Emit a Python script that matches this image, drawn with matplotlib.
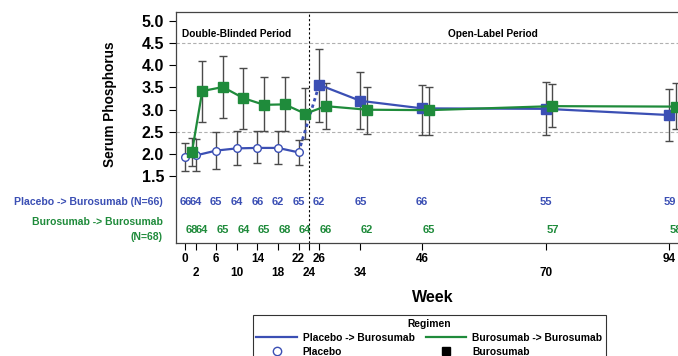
import numpy as np
import matplotlib
matplotlib.use("Agg")
import matplotlib.pyplot as plt
from matplotlib.lines import Line2D

plt.rcParams['font.family'] = ['Liberation Sans', 'DejaVu Sans']
plt.rcParams['font.weight'] = 'bold'
plt.rcParams['axes.labelweight'] = 'bold'

# ---- data ----
weeks = [0, 2, 6, 10, 14, 18, 22, 26, 34, 46, 70, 94]
tick_weeks = [0, 2, 6, 10, 14, 18, 22, 24, 26, 34, 46, 70, 94]

pbo_mean = [1.93, 1.97, 2.08, 2.13, 2.14, 2.14, 2.04, 3.56, 3.20, 3.03, 3.02, 2.88]
pbo_hi = [2.25, 2.35, 2.49, 2.53, 2.53, 2.52, 2.32, 4.36, 3.85, 3.56, 3.62, 3.47]
pbo_lo = [1.61, 1.61, 1.67, 1.75, 1.80, 1.78, 1.75, 2.73, 2.57, 2.44, 2.44, 2.29]
pbo_n = [66, 64, 65, 64, 66, 62, 65, 62, 65, 66, 55, 59]

bur_mean = [2.05, 3.42, 3.51, 3.26, 3.11, 3.12, 2.91, 3.08, 3.00, 2.99, 3.08, 3.07]
bur_hi = [2.36, 4.09, 4.21, 3.94, 3.74, 3.74, 3.48, 3.60, 3.51, 3.51, 3.57, 3.60]
bur_lo = [1.74, 2.73, 2.82, 2.56, 2.52, 2.52, 2.34, 2.56, 2.45, 2.44, 2.61, 2.56]
bur_n = [68, 64, 65, 64, 65, 68, 64, 66, 62, 65, 57, 58]

BLUE = '#3b4fb4'
GREEN = '#1f8b3b'
BAR = '#4a4a4a'
shift = 1.3  # Burosumab group drawn a little to the right

fig = plt.figure(figsize=(6.78, 3.56), dpi=100)
ax = fig.add_axes([0.2596, 0.3174, 0.758, 0.649])

w = np.array(weeks, dtype=float)
wb = w + shift
pm, pl, ph = map(np.array, (pbo_mean, pbo_lo, pbo_hi))
bm, bl, bh = map(np.array, (bur_mean, bur_lo, bur_hi))

# reference lines
for yv in (4.5, 2.5):
    ax.axhline(yv, color='#b0b0b0', lw=0.8, ls=(0, (3, 2)), zorder=0)
ax.axvline(24, color='black', lw=0.8, ls=(0, (2, 2)), zorder=1)

# error bars
ax.errorbar(w, pm, yerr=[pm - pl, ph - pm], fmt='none', ecolor=BAR,
            elinewidth=1.0, capsize=3, capthick=1.0, zorder=2)
ax.errorbar(wb, bm, yerr=[bm - bl, bh - bm], fmt='none', ecolor=BAR,
            elinewidth=1.0, capsize=3, capthick=1.0, zorder=2)

# placebo -> burosumab
ax.plot(w[:7], pm[:7], color=BLUE, lw=1.6, zorder=3)
ax.plot(w[6:8], pm[6:8], color=BLUE, lw=2.0, ls=(0, (1.2, 1.2)), zorder=3)
ax.plot(w[7:], pm[7:], color=BLUE, lw=1.6, zorder=3)
ax.plot(w[:7], pm[:7], ls='none', marker='o', ms=5.5, mfc='white', mec=BLUE, mew=1.0, zorder=4)
ax.plot(w[7:], pm[7:], ls='none', marker='s', ms=6.7, color=BLUE, zorder=4)

# burosumab -> burosumab
ax.plot(wb, bm, color=GREEN, lw=1.6, marker='s', ms=6.7, zorder=4)

# patient counts inside the axes
for x, n in zip(w, pbo_n):
    ax.text(x, 0.92, str(n), color=BLUE, fontsize=8, ha='center', va='center')
for x, n in zip(wb, bur_n):
    ax.text(x, 0.30, str(n), color=GREEN, fontsize=8, ha='center', va='center')

ax.text(-4.4, 0.92, 'Placebo -> Burosumab (N=66)', color=BLUE, fontsize=7.6,
        ha='right', va='center', clip_on=False)
ax.text(-4.4, 0.30, 'Burosumab -> Burosumab\n(N=68)', color=GREEN, fontsize=7.5,
        ha='right', va='center', linespacing=1.6, multialignment='right', clip_on=False)

ax.text(-0.7, 4.71, 'Double-Blinded Period', fontsize=7.3, ha='left', va='center')
ax.text(59.8, 4.71, 'Open-Label Period', fontsize=7.3, ha='center', va='center')

ax.set_xlim(-1.8, 98)
ax.set_ylim(0, 5.2)
ax.set_yticks(np.arange(1.5, 5.01, 0.5))
ax.set_yticklabels([f'{v:.1f}' for v in np.arange(1.5, 5.01, 0.5)], fontsize=11.5)
ax.set_ylabel('Serum Phosphorus', fontsize=9.8)
ax.yaxis.set_label_coords(-0.115, 0.6)

ax.set_xticks(tick_weeks)
ax.set_xticklabels([f'{t}' if i % 2 == 0 else f'\n{t}' for i, t in enumerate(tick_weeks)],
                   fontsize=8.5, linespacing=1.25)
ax.tick_params(axis='x', length=5, width=0.8, pad=2)
ax.tick_params(axis='y', length=5, width=0.8)
ax.set_xlabel('Week', fontsize=11.5, labelpad=8)

for s in ax.spines.values():
    s.set_color('#444444')
    s.set_linewidth(0.9)

handles = [Line2D([], [], color=BLUE, lw=1.6),
           Line2D([], [], ls='none', marker='o', mfc='none', mec=BLUE, ms=6),
           Line2D([], [], color=GREEN, lw=1.6),
           Line2D([], [], ls='none', marker='s', color='black', ms=6)]
labels = ['Placebo -> Burosumab', 'Placebo', 'Burosumab -> Burosumab', 'Burosumab']
leg = fig.legend(handles, labels, ncol=2, loc='upper left', bbox_to_anchor=(0.373, 0.115),
                 title='Regimen', fontsize=7.4, title_fontproperties={'weight': 'bold', 'size': 7.4},
                 frameon=True, fancybox=False, edgecolor='black', handlelength=3.9,
                 borderpad=0.35, labelspacing=0.4, columnspacing=1.1, handletextpad=0.6,
                 borderaxespad=0)
leg.get_frame().set_linewidth(0.8)

fig.savefig('out.png', dpi=100)
